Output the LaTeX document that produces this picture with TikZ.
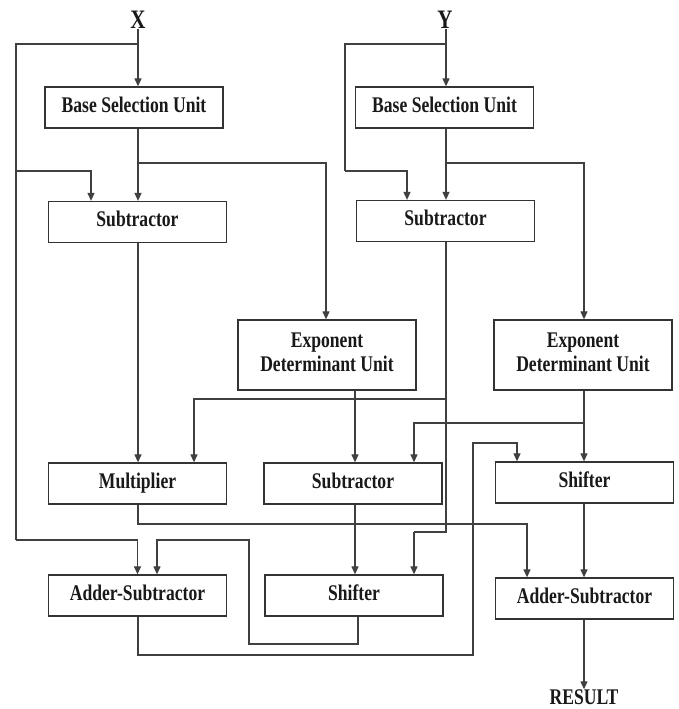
\documentclass[tikz,border=0pt]{standalone}
\usepackage{fontspec}
\setmainfont{Liberation Serif}
\usepackage{graphicx}
\usetikzlibrary{arrows.meta}
\newcommand{\lbl}[1]{\scalebox{1}[1.27]{\fontsize{17.6}{19}\selectfont\bfseries\raisebox{-2pt}{\begin{tabular}{@{}c@{}}#1\end{tabular}}}}
\newcommand{\iolbl}[2]{\scalebox{1}[1.27]{\fontsize{#1}{#1}\selectfont\bfseries #2}}
\begin{document}
\begin{tikzpicture}[x=1pt,y=-1pt,
  box/.style={draw=black!80, line width=1.3pt, inner sep=0pt, minimum height=41pt, minimum width=178pt, text=black!90},
  tallbox/.style={box, minimum height=70pt},
  io/.style={inner sep=0pt, text=black!90},
  conn/.style={draw=black!75, line width=1.2pt},
  arr/.style={conn, -{Triangle[width=7pt,length=8pt]}}]
\useasboundingbox[fill=white] (0,0) rectangle (679,709);

% inputs / output
\node[io] (X) at (138,20) {\iolbl{21}{X}};
\node[io] (Y) at (445,20) {\iolbl{21}{Y}};
\node[io] (RES) at (584,697) {\iolbl{17.6}{RESULT}};

% boxes
\node[box] (bsuX) at (134,107.5) {\lbl{Base Selection Unit}};
\node[box] (bsuY) at (444.5,107.5) {\lbl{Base Selection Unit}};
\node[box] (subX) at (137.5,222) {\lbl{Subtractor}};
\node[box] (subY) at (445.5,221) {\lbl{Subtractor}};
\node[tallbox] (expL) at (327,355) {\lbl{Exponent\\Determinant Unit}};
\node[tallbox] (expR) at (583,355) {\lbl{Exponent\\Determinant Unit}};
\node[box] (mult) at (137.5,483.5) {\lbl{Multiplier}};
\node[box] (subM) at (353,483.5) {\lbl{Subtractor}};
\node[box] (shR) at (584.5,482.5) {\lbl{Shifter}};
\node[box] (asL) at (137.5,595.5) {\lbl{Adder-Subtractor}};
\node[box] (shM) at (354,595.5) {\lbl{Shifter}};
\node[box] (asR) at (584.5,598.5) {\lbl{Adder-Subtractor}};

% bend points
\coordinate (xb1) at (138,44);
\coordinate (xb2) at (16,44);
\coordinate (xb3) at (16,540);
\coordinate (xs1) at (16,171);
\coordinate (xs2) at (91,171);
\coordinate (xb4) at (138,163);
\coordinate (xb5) at (326,163);
\coordinate (yb1) at (446,44);
\coordinate (yb2) at (345,44);
\coordinate (yb3) at (345,171);
\coordinate (yb4) at (407,171);
\coordinate (yb5) at (446,163);
\coordinate (yb6) at (584,163);
\coordinate (ys1) at (446,399);
\coordinate (ys2) at (194,399);
\coordinate (ys3) at (446,532);
\coordinate (ys4) at (414,532);
\coordinate (eL) at (355,390);
\coordinate (eR1) at (584,423);
\coordinate (eR2) at (414,423);
\coordinate (m1) at (138,524);
\coordinate (m2) at (527,524);
\coordinate (a1) at (138,655);
\coordinate (a2) at (473,655);
\coordinate (a3) at (473,443);
\coordinate (a4) at (517,443);
\coordinate (s1) at (358,644);
\coordinate (s2) at (249,644);
\coordinate (s3) at (249,540);
\coordinate (s4) at (157,540);

% X side
\draw[arr] (X) -- (X |- bsuX.north);
\draw[conn] (xb1) -- (xb2) -- (xb3);
\draw[arr] (xb3) -| (asL.north);
\draw[arr] (xs1) -- (xs2) -- (xs2 |- subX.north);
\draw[arr] (X |- bsuX.south) -- (X |- subX.north);
\draw[arr] (xb4) -- (xb5) -- (xb5 |- expL.north);
\draw[arr] (X |- subX.south) -- (X |- mult.north);

% Y side
\draw[arr] (yb1 |- Y.south) -- (yb1 |- bsuY.north);
\draw[conn] (yb1) -- (yb2) -- (yb3);
\draw[arr] (yb3) -- (yb4) -- (yb4 |- subY.north);
\draw[arr] (yb1 |- bsuY.south) -- (yb1 |- subY.north);
\draw[arr] (yb5) -- (yb6) -- (yb6 |- expR.north);
\draw[conn] (yb1 |- subY.south) -- (ys3) -- (ys4);
\draw[arr] (ys4) -- (ys4 |- shM.north);
\draw[arr] (ys1) -- (ys2) -- (ys2 |- mult.north);

% middle
\draw[arr] (eL) -- (eL |- subM.north);
\draw[arr] (eL |- subM.south) -- (eL |- shM.north);
\draw[arr] (yb6 |- expR.south) -- (yb6 |- shR.north);
\draw[arr] (eR1) -- (eR2) -- (eR2 |- subM.north);

% lower
\draw[arr] (X |- mult.south) -- (m1) -- (m2) -- (m2 |- asR.north);
\draw[arr] (yb6 |- shR.south) -- (yb6 |- asR.north);
\draw[arr] (X |- asL.south) -- (a1) -- (a2) -- (a3) -- (a4) -- (a4 |- shR.north);
\draw[arr] (s1 |- shM.south) -- (s1) -- (s2) -- (s3) -- (s4) -- (s4 |- asL.north);
\draw[arr] (yb6 |- asR.south) -- (RES);
\end{tikzpicture}
\end{document}
